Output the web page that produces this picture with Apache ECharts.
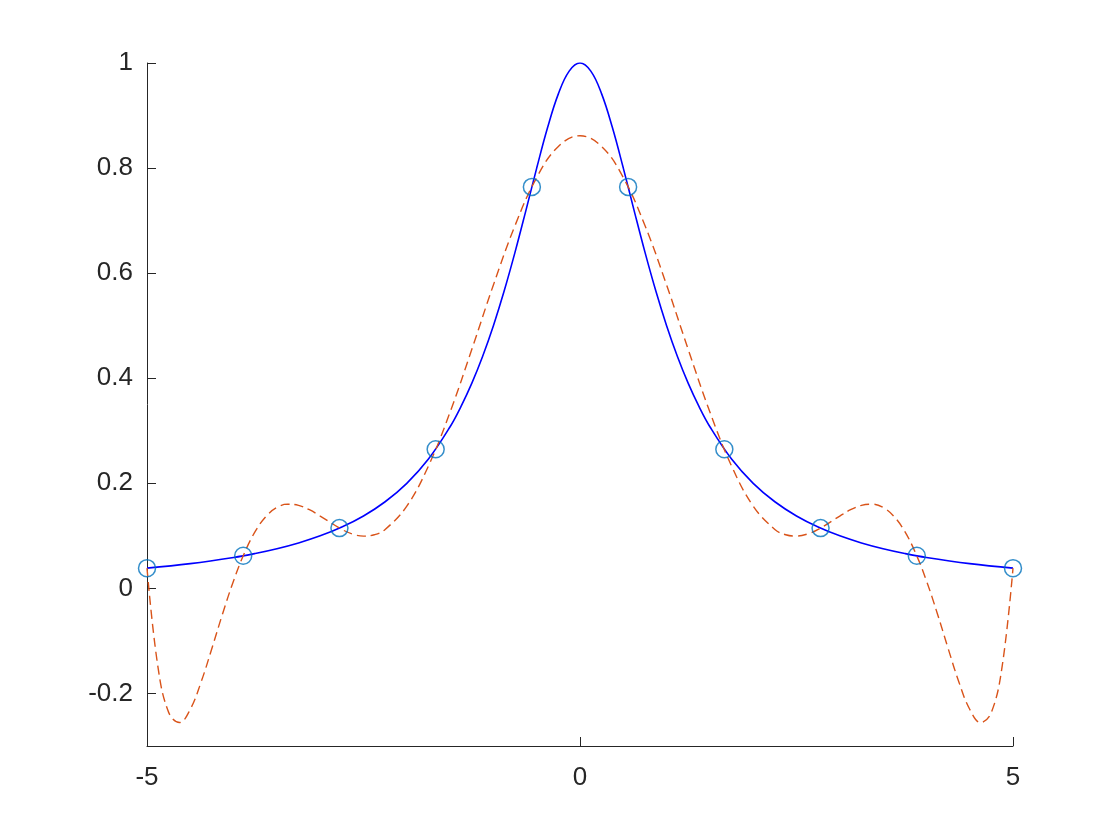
<!DOCTYPE html>
<html>
<head>
<meta charset="utf-8">
<script src="https://cdn.jsdelivr.net/npm/echarts@6/dist/echarts.min.js"></script>
<style>html,body{margin:0;padding:0;background:#fff}#c{width:1120px;height:840px}</style>
</head>
<body>
<div id="c"></div>
<script>
// Interpolation nodes
var nodeX = [-5, -3.8889, -2.7778, -1.6667, -0.5556, 0.5556, 1.6667, 2.7778, 3.8889, 5];
var nodeY = [0.0385, 0.0620, 0.1147, 0.2647, 0.7642, 0.7642, 0.2647, 0.1147, 0.0620, 0.0385];

// Solid blue curve
var blueX = [-5,-4.5,-4,-3.75,-3.5,-3.25,-3,-2.75,-2.5,-2.25,-2,-1.75,-1.5,-1.375,-1.25,-1.125,-1,-0.875,-0.75,-0.625,-0.5,-0.375,-0.25,-0.125,
  0,
  0.125,0.25,0.375,0.5,0.625,0.75,0.875,1,1.125,1.25,1.375,1.5,1.75,2,2.25,2.5,2.75,3,3.25,3.5,3.75,4,4.5,5];
var blueY = [0.0385,0.0471,0.0588,0.0664,0.0755,0.0865,0.1,0.1168,0.1379,0.1649,0.2,0.2462,0.3077,0.3459,0.3902,0.4414,0.5,0.5664,0.64,0.7191,0.8,0.8767,0.9412,0.9846,
  1,
  0.9846,0.9412,0.8767,0.8,0.7191,0.64,0.5664,0.5,0.4414,0.3902,0.3459,0.3077,0.2462,0.2,0.1649,0.1379,0.1168,0.1,0.0865,0.0755,0.0664,0.0588,0.0471,0.0385];

// Dashed orange curve
var redX = [-5,-4.875,-4.75,-4.625,-4.5,-4.375,-4.25,-4.125,-4,-3.875,-3.75,-3.625,-3.5,-3.375,-3.25,-3.125,-3,-2.75,-2.625,-2.5,-2.375,-2.25,-2,-1.75,-1.5,-1.25,-1,-0.75,-0.5,-0.25,
  0,
  0.25,0.5,0.75,1,1.25,1.5,1.75,2,2.25,2.375,2.5,2.625,2.75,3,3.125,3.25,3.375,3.5,3.625,3.75,3.875,4,4.125,4.25,4.375,4.5,4.625,4.75,4.875,5];
var redY = [0.0385,-0.1480,-0.2360,-0.2554,-0.2300,-0.1781,-0.1138,-0.0472,0.0147,0.0673,0.1084,0.1371,0.1540,0.1603,0.1581,0.1497,0.1377,0.1123,0.1034,0.0995,0.1021,0.1122,0.1566,0.2330,0.3356,0.4546,0.5775,0.6907,0.7820,0.8411,
  0.8615,
  0.8411,0.7820,0.6907,0.5775,0.4546,0.3356,0.2330,0.1566,0.1122,0.1021,0.0995,0.1034,0.1123,0.1377,0.1497,0.1581,0.1603,0.1540,0.1371,0.1084,0.0673,0.0147,-0.0472,-0.1138,-0.1781,-0.2300,-0.2554,-0.2360,-0.1480,0.0385];

// Tick labels
var xTicks = [-5, 0, 5];
var yTicks = [-0.2, 0, 0.2, 0.4, 0.6, 0.8, 1];

function pairs(xs, ys) { return xs.map(function (x, i) { return [x, ys[i]]; }); }

var axisColor = '#262626';
var font = 'Liberation Sans, Arial, Helvetica, sans-serif';

var chart = echarts.init(document.getElementById('c'), null, {renderer: 'canvas'});
chart.setOption({
  animation: false,
  backgroundColor: '#ffffff',
  grid: {left: 147, right: 107, top: 63, bottom: 94, containLabel: false},
  xAxis: {
    type: 'value', min: -5, max: 5, interval: 5,
    axisLine: {show: true, onZero: false, lineStyle: {color: axisColor, width: 1}},
    axisTick: {show: true, inside: true, length: 9, lineStyle: {color: axisColor}, customValues: xTicks},
    axisLabel: {show: true, color: axisColor, fontSize: 26, fontFamily: font, margin: 19, customValues: xTicks},
    splitLine: {show: false}
  },
  yAxis: {
    type: 'value', min: -0.3, max: 1,
    axisLine: {show: true, onZero: false, lineStyle: {color: axisColor, width: 1}},
    axisTick: {show: true, inside: true, length: 9, lineStyle: {color: axisColor}, customValues: yTicks},
    axisLabel: {show: true, color: axisColor, fontSize: 26, fontFamily: font, margin: 14, customValues: yTicks},
    splitLine: {show: false}
  },
  series: [
    {
      type: 'line', data: pairs(blueX, blueY), smooth: 0.4, showSymbol: false,
      lineStyle: {color: '#0000FF', width: 1.6}, z: 3
    },
    {
      type: 'line', data: pairs(redX, redY), smooth: 0.4, showSymbol: false,
      lineStyle: {color: '#D95319', width: 1.4, type: [9, 5]}, z: 4
    },
    {
      type: 'scatter', data: pairs(nodeX, nodeY), symbol: 'circle', symbolSize: 17,
      itemStyle: {color: 'rgba(255,255,255,0)', borderColor: '#0072BD', borderWidth: 1.5},
      z: 5
    }
  ]
});
</script>
</body>
</html>
